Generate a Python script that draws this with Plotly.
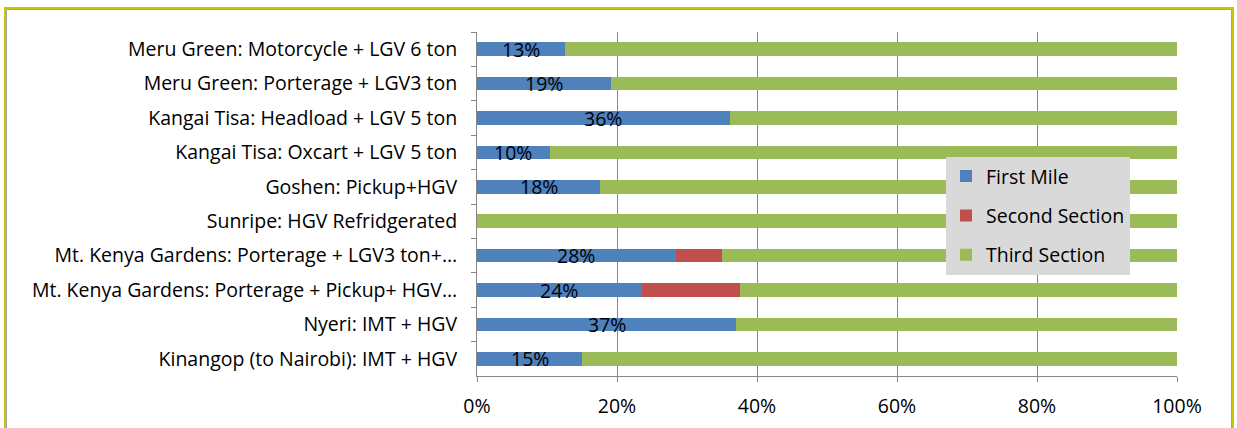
import plotly.graph_objects as go

categories = [
    "Meru Green: Motorcycle + LGV 6 ton",
    "Meru Green: Porterage + LGV3 ton",
    "Kangai Tisa: Headload + LGV 5 ton",
    "Kangai Tisa: Oxcart + LGV 5 ton",
    "Goshen: Pickup+HGV",
    "Sunripe: HGV Refridgerated",
    "Mt. Kenya Gardens: Porterage + LGV3 ton+…",
    "Mt. Kenya Gardens: Porterage + Pickup+ HGV…",
    "Nyeri: IMT + HGV",
    "Kinangop (to Nairobi): IMT + HGV",
]
first_mile = [12.6, 19.1, 36.1, 10.4, 17.6, 0.0, 28.4, 23.5, 37.0, 15.0]
second_section = [0.0, 0.0, 0.0, 0.0, 0.0, 0.0, 6.6, 14.1, 0.0, 0.0]
third_section = [100 - f - s for f, s in zip(first_mile, second_section)]
first_labels = ["13%", "19%", "36%", "10%", "18%", "", "28%", "24%", "37%", "15%"]

FONT = "'Open Sans', Calibri, sans-serif"
FS = 19.5
BLUE, RED, GREEN = "#4F81BD", "#C0504D", "#9BBB59"

fig = go.Figure()
fig.add_trace(go.Bar(y=categories, x=first_mile, name="First Mile", orientation="h",
                     marker=dict(color=BLUE, line=dict(width=0)), width=0.4,
                     legendgroup="a"))
fig.add_trace(go.Bar(y=categories, x=second_section, name="Second Section", orientation="h",
                     marker=dict(color=RED, line=dict(width=0)), width=0.4,
                     legendgroup="b"))
fig.add_trace(go.Bar(y=categories, x=third_section, name="Third Section", orientation="h",
                     marker=dict(color=GREEN, line=dict(width=0)), width=0.4,
                     legendgroup="c"))

annotations = [
    dict(x=f / 2, y=c, xref="x", yref="y", text=t, showarrow=False,
         yshift=0, font=dict(family=FONT, size=FS, color="#000000"))
    for c, f, t in zip(categories, first_mile, first_labels) if t
]

fig.update_layout(
    barmode="stack",
    width=1237, height=428,
    margin=dict(l=477, r=60, t=32, b=52, autoexpand=False),
    paper_bgcolor="white", plot_bgcolor="white",
    font=dict(family=FONT, size=FS, color="#000000"),
    annotations=annotations,
    legend=dict(x=(946 - 477) / 700, y=0.637, xanchor="left", yanchor="top",
                bgcolor="#D9D9D9", font=dict(family=FONT, size=FS),
                tracegroupgap=11, traceorder="grouped",
                itemwidth=30),
    xaxis=dict(range=[0, 100], tickvals=[0, 20, 40, 60, 80, 100],
               ticktext=["0%", "20%", "40%", "60%", "80%", "100%"],
               showgrid=True, gridcolor="#868686", gridwidth=1,
               showline=True, linecolor="#868686", linewidth=1,
               ticks="outside", ticklen=5, tickcolor="#868686",
               ticklabelstandoff=8, zeroline=False, fixedrange=True,
               automargin=False),
    yaxis=dict(categoryorder="array", categoryarray=categories, autorange="reversed",
               showline=True, linecolor="#868686", linewidth=1,
               ticks="outside", ticklen=5, tickcolor="#868686", tickson="boundaries",
               ticklabelstandoff=15, showgrid=False, fixedrange=True,
               automargin=False),
    shapes=[
        dict(type="rect", xref="paper", yref="paper",
             x0=(5 - 477) / 700, x1=(1233 - 477) / 700,
             y0=(376 - 445) / 344, y1=(376 - 8) / 344,
             line=dict(color="#C8C800", width=2), fillcolor="rgba(0,0,0,0)", layer="below"),
        dict(type="rect", xref="paper", yref="paper",
             x0=(6.5 - 477) / 700, x1=(1231.5 - 477) / 700,
             y0=(376 - 445) / 344, y1=(376 - 9.5) / 344,
             line=dict(color="#A0A0A0", width=1), fillcolor="rgba(0,0,0,0)", layer="below"),
    ],
)

fig.write_html("out.html")
